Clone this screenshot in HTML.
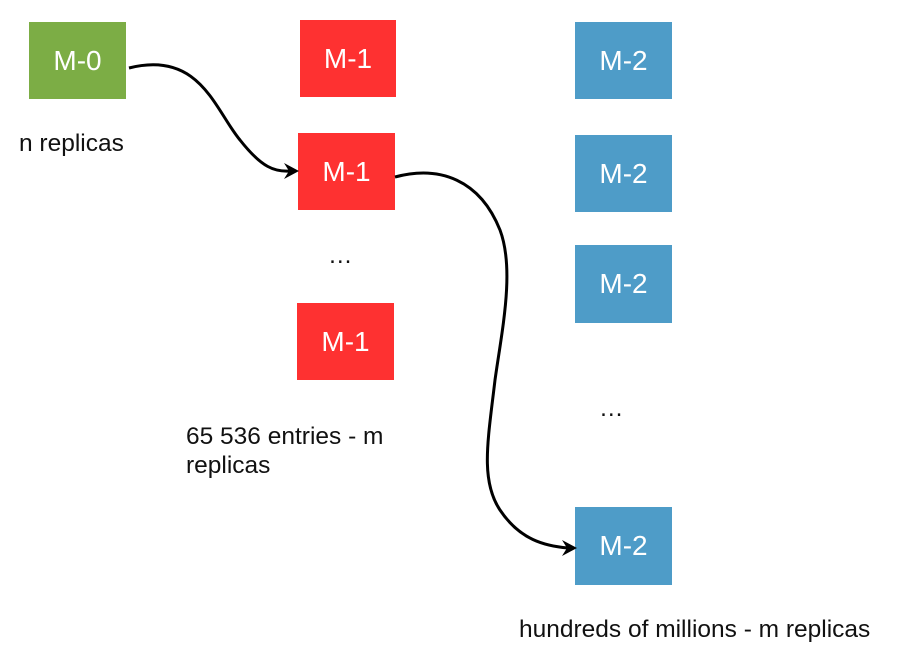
<!DOCTYPE html>
<html><head><style>
body{margin:0;width:904px;height:672px;background:#fff;position:relative;overflow:hidden;font-family:"Liberation Sans",Helvetica,sans-serif}
.b{position:absolute;color:#fff;font-size:28px;display:flex;align-items:center;justify-content:center}
.g{background:#7cad45}.r{background:#fe3131}.u{background:#4e9cc8}
.t{position:absolute;font-size:24.5px;color:#111;line-height:29px}
</style></head><body>
<div class="b g" style="left:29px;top:22px;width:97px;height:77px">M-0</div>
<div class="b r" style="left:300px;top:20px;width:96px;height:77px">M-1</div>
<div class="b r" style="left:298px;top:133px;width:97px;height:77px">M-1</div>
<div class="b r" style="left:297px;top:303px;width:97px;height:77px">M-1</div>
<div class="b u" style="left:575px;top:22px;width:97px;height:77px">M-2</div>
<div class="b u" style="left:575px;top:135px;width:97px;height:77px">M-2</div>
<div class="b u" style="left:575px;top:245px;width:97px;height:78px">M-2</div>
<div class="b u" style="left:575px;top:507px;width:97px;height:78px">M-2</div>
<div class="t" style="left:19px;top:129px">n replicas</div>
<div class="t" style="left:328px;top:241px">…</div>
<div class="t" style="left:599px;top:394px">…</div>
<div class="t" style="left:186px;top:422px">65 536 entries - m<br>replicas</div>
<div class="t" style="left:519px;top:615px">hundreds of millions - m replicas</div>
<svg width="904" height="672" style="position:absolute;left:0;top:0">
<path d="M129,68 C200,50 215,110 240,140 C262,168 275,172 290,171" fill="none" stroke="#000" stroke-width="3"/>
<path d="M299,171 L284,163 L289,171 L284,179 Z" fill="#000"/>
<path d="M395,177 C440,165 480,180 500,230 C515,270 502,330 495,380 C488,440 480,480 500,510 C520,540 545,546 568,548" fill="none" stroke="#000" stroke-width="3"/>
<path d="M577,548 L562,540 L567,548 L562,556 Z" fill="#000"/>
</svg>
</body></html>
